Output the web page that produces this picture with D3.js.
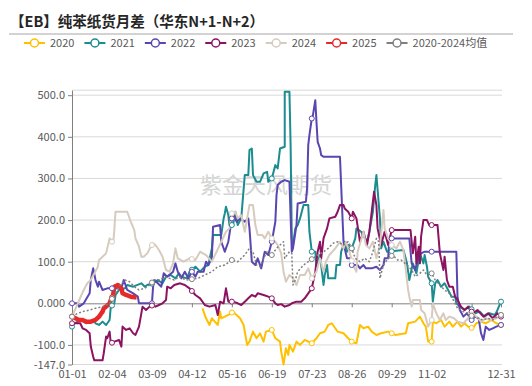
<!DOCTYPE html>
<html>
<head>
<meta charset="utf-8">
<script src="https://cdn.jsdelivr.net/npm/d3@7"></script>
<style>
body { margin: 0; background: #fff; }
svg { display: block; }
text { font-family: "Noto Sans CJK SC", "Noto Sans", sans-serif; }
</style>
</head>
<body>
<div id="chart"></div>
<script>
// series names and colours
var names = ["2020", "2021", "2022", "2023", "2024", "2025", "2020-2024均值"];
var colors = ["#ffc000", "#1b8c8f", "#5a46b0", "#8c1262", "#d6cbbe", "#e8292a", "#7f7f7f"];

// [day of year, value]
var s2020 = [[111,-12],[114,-36],[117,-52],[119,-36],[124,-52],[126,-20],[127,-36],[133,-28],[137,-20],[140,-28],[143,-36],[146,-52],[148,-84],[149,-100],[151,-92],[154,-68],[157,-84],[160,-72],[163,-92],[165,-68],[170,-64],[173,-84],[177,-92],[178,-116],[180,-147],[182,-108],[184,-124],[185,-100],[188,-116],[191,-92],[194,-100],[198,-88],[204,-96],[208,-84],[211,-72],[215,-68],[218,-52],[221,-48],[224,-60],[226,-68],[231,-72],[235,-84],[238,-92],[242,-96],[245,-52],[248,-60],[252,-56],[255,-68],[259,-76],[263,-72],[269,-68],[275,-76],[284,-72],[286,-48],[292,-44],[296,-32],[299,-48],[301,-56],[303,-92],[306,-92],[307,-44],[310,-48],[314,-40],[317,-56],[321,-44],[324,-56],[328,-44],[331,-56],[334,-48],[337,-56],[341,-60],[344,-48],[348,-44],[352,-48],[357,-40],[361,-48],[365,-52]];

var s2021 = [[0,-56],[2,-48],[8,-40],[12,-48],[18,-40],[20,-48],[23,-52],[26,-44],[29,-52],[32,-40],[33,-8],[36,0],[37,20],[40,32],[45,36],[47,44],[52,40],[59,48],[62,40],[64,44],[69,48],[73,56],[77,48],[80,64],[84,68],[88,60],[91,72],[93,64],[98,60],[100,76],[105,88],[109,76],[113,88],[116,92],[119,132],[120,164],[127,164],[129,204],[130,216],[131,232],[133,212],[134,188],[137,188],[139,220],[141,188],[144,204],[147,308],[150,308],[151,368],[153,372],[154,308],[157,292],[160,292],[163,312],[166,316],[167,292],[170,300],[173,332],[175,324],[177,372],[181,376],[181,508],[185,508],[186,380],[187,156],[188,140],[190,180],[192,188],[194,204],[197,236],[201,236],[202,172],[204,124],[207,124],[208,92],[211,116],[212,92],[214,44],[215,68],[217,92],[218,60],[224,60],[225,92],[228,92],[229,124],[232,148],[234,124],[235,140],[238,132],[241,156],[242,180],[246,172],[251,148],[253,172],[256,220],[258,284],[259,308],[262,204],[263,132],[265,148],[268,124],[282,128],[285,96],[287,56],[290,96],[293,72],[296,120],[299,96],[300,116],[302,88],[303,64],[306,48],[307,4],[309,48],[311,56],[314,40],[317,48],[320,32],[323,16],[326,16],[327,0],[330,-8],[334,-16],[338,-8],[343,-24],[347,-20],[351,-32],[355,-24],[360,-28],[362,-16],[365,4]];

var s2022 = [[0,0],[5,0],[6,-8],[10,0],[15,24],[16,56],[18,84],[20,56],[22,40],[23,52],[26,32],[30,36],[35,36],[42,36],[44,56],[47,32],[52,24],[56,16],[57,0],[68,0],[69,40],[70,56],[73,48],[76,40],[78,72],[81,64],[86,76],[88,96],[90,76],[93,60],[96,76],[99,60],[102,76],[105,64],[107,76],[112,76],[114,100],[116,92],[119,108],[120,184],[126,188],[127,148],[130,124],[133,148],[136,204],[137,216],[140,196],[143,204],[147,196],[150,204],[151,180],[153,100],[156,92],[158,108],[161,84],[164,124],[167,116],[170,148],[173,196],[174,260],[175,284],[178,292],[181,296],[185,292],[187,124],[188,132],[191,188],[192,240],[199,244],[200,276],[201,380],[202,404],[204,444],[205,452],[207,488],[208,436],[209,388],[211,372],[212,356],[214,352],[228,352],[229,284],[231,148],[232,132],[234,108],[237,108],[238,92],[243,92],[245,84],[248,92],[250,84],[255,84],[259,88],[262,80],[265,92],[266,108],[269,108],[270,156],[287,156],[289,96],[292,80],[294,104],[297,120],[300,124],[327,124],[328,16],[330,-16],[333,-32],[336,-24],[340,-40],[343,-32],[346,-36],[348,-72],[350,-88],[352,-56],[355,-64],[358,-60],[361,-56],[365,-52]];

var s2023 = [[0,-48],[7,-48],[9,-60],[12,-64],[15,-72],[16,-104],[18,-128],[19,-137],[26,-137],[27,-120],[29,-80],[30,-84],[32,-68],[33,-96],[36,-92],[40,-88],[42,-104],[43,-56],[46,-64],[49,-60],[52,-72],[54,-76],[57,-56],[60,-8],[63,-16],[66,-8],[69,-4],[71,-8],[74,-4],[77,0],[80,8],[81,40],[84,36],[87,44],[92,48],[96,44],[100,36],[105,20],[109,12],[113,-4],[117,-8],[122,-4],[124,-28],[126,4],[129,0],[131,36],[133,4],[137,4],[141,0],[144,-4],[147,4],[150,12],[153,20],[156,16],[158,24],[163,20],[167,16],[170,12],[173,0],[175,-4],[178,-2],[181,-8],[185,-4],[187,0],[191,4],[195,4],[198,12],[201,24],[204,36],[207,76],[209,124],[211,148],[212,108],[214,156],[217,180],[219,204],[224,208],[226,220],[228,236],[231,236],[232,228],[235,220],[238,204],[239,220],[242,204],[245,148],[248,172],[251,140],[253,172],[255,220],[257,268],[259,236],[260,180],[263,140],[266,172],[269,140],[272,176],[288,176],[290,120],[292,160],[293,96],[295,136],[296,96],[297,160],[299,200],[302,200],[304,188],[311,188],[313,120],[316,80],[317,112],[319,56],[321,40],[324,40],[326,16],[328,8],[331,-8],[334,-16],[337,-8],[341,-24],[345,-16],[350,-32],[354,-24],[358,-36],[362,-24],[365,-32]];

var s2024 = [[0,-32],[5,0],[8,20],[10,32],[13,48],[16,56],[19,72],[22,88],[23,104],[26,112],[29,120],[30,132],[32,156],[35,144],[36,176],[37,220],[47,220],[50,196],[53,176],[54,156],[57,136],[59,112],[61,112],[64,120],[67,136],[69,144],[71,140],[74,128],[77,112],[80,80],[83,76],[86,96],[88,132],[90,108],[95,100],[100,108],[105,104],[109,124],[114,116],[119,100],[123,124],[127,148],[131,172],[134,180],[136,216],[139,220],[141,204],[144,212],[147,172],[151,236],[154,236],[156,188],[158,164],[162,164],[164,156],[167,172],[170,156],[173,148],[175,140],[178,120],[180,76],[182,52],[185,68],[188,60],[191,44],[194,68],[198,68],[201,84],[204,60],[208,76],[211,108],[214,76],[216,100],[219,116],[224,132],[228,148],[231,132],[233,148],[236,124],[239,92],[242,76],[243,124],[248,172],[250,140],[253,132],[256,148],[259,108],[262,140],[265,224],[266,180],[269,156],[272,140],[276,132],[279,148],[282,128],[284,80],[286,32],[287,16],[289,-8],[290,8],[296,8],[297,-16],[300,-24],[303,-56],[306,-40],[307,0],[310,-24],[313,-40],[316,-24],[318,-40],[321,-32],[325,-36],[328,-44],[333,-48],[337,-36],[341,-24],[344,-32],[348,-44],[352,-36],[357,-40],[361,-36],[365,-28]];

var s2025 = [[0,-32],[3,-36],[6,-40],[9,-40],[12,-44],[16,-44],[20,-40],[23,-32],[25,-24],[26,-20],[27,-12],[29,-8],[32,0],[33,8],[35,20],[36,40],[39,44],[42,36],[43,24],[46,20],[50,16],[55,14]];

var sAvg = [[0,-32],[5,-24],[9,-20],[15,-16],[20,-12],[26,-8],[32,0],[35,16],[40,40],[45,56],[49,52],[53,40],[57,32],[62,36],[66,44],[70,56],[74,56],[79,64],[83,60],[87,56],[91,64],[97,56],[102,58],[107,60],[113,68],[119,76],[124,88],[130,92],[136,104],[141,100],[147,116],[151,132],[154,124],[157,92],[160,88],[163,108],[166,124],[170,116],[174,132],[177,140],[180,148],[181,108],[185,124],[187,120],[188,44],[190,56],[192,76],[197,92],[201,100],[205,108],[209,116],[214,124],[218,132],[222,144],[226,148],[231,140],[235,148],[238,132],[241,108],[245,100],[249,108],[253,100],[256,124],[259,156],[261,148],[262,60],[265,92],[269,108],[273,116],[277,104],[280,104],[285,92],[289,80],[292,64],[296,72],[299,80],[303,64],[306,72],[309,56],[313,44],[317,32],[321,24],[326,0],[328,-12],[333,-20],[337,-24],[341,-32],[345,-36],[350,-40],[354,-36],[358,-40],[362,-32],[365,-28]];

var allSeries = [s2020, s2021, s2022, s2023, s2024, s2025, sAvg];

// axes
var xTickDays = [0, 34, 68, 102, 136, 170, 204, 238, 272, 306, 340, 365];
var xLabelDays = [0, 34, 68, 102, 136, 170, 204, 238, 272, 306, 365];
var xLabels = ["01-01", "02-04", "03-09", "04-12", "05-16", "06-19", "07-23", "08-26", "09-29", "11-02", "12-31"];
var yTickVals = [-147, -100, 0, 100, 200, 300, 400, 500];
var yLabels = ["-147.0", "-100.0", "0.000", "100.0", "200.0", "300.0", "400.0", "500.0"];
var yMin = -147, yMax = 512;

var width = 532, height = 386;
var svg = d3.select("#chart").append("svg")
    .attr("width", width)
    .attr("height", height);

var x = d3.scaleLinear().domain([0, 365]).range([72, 501]);
var y = d3.scaleLinear().domain([yMin, yMax]).range([364.5, 90.2]);

// title
svg.append("text")
    .attr("x", 10)
    .attr("y", 27)
    .attr("font-size", 14.5)
    .attr("font-weight", "bold")
    .attr("fill", "#262626")
    .text("【EB】纯苯纸货月差（华东N+1-N+2）");

svg.append("line")
    .attr("x1", 9).attr("x2", 513)
    .attr("y1", 34).attr("y2", 34)
    .attr("stroke", "#a6a6a6")
    .attr("stroke-width", 1);

// legend
var lx = 24;
names.forEach(function(n, i) {
    var g = svg.append("g").attr("transform", "translate(" + lx + ",43)");
    g.append("line")
        .attr("x1", 0).attr("x2", 21)
        .attr("stroke", colors[i])
        .attr("stroke-width", 2);
    g.append("circle")
        .attr("cx", 10.5).attr("r", 4)
        .attr("fill", "#fff")
        .attr("stroke", colors[i])
        .attr("stroke-width", 1.5);
    var t = g.append("text")
        .attr("x", 26).attr("y", 4)
        .attr("font-size", 11)
        .attr("fill", "#595959")
        .text(n);
    lx += 26 + t.node().getComputedTextLength() + 10;
});

// watermark
svg.append("text")
    .attr("x", 266)
    .attr("y", 193)
    .attr("text-anchor", "middle")
    .attr("font-size", 22)
    .attr("fill", "#d4d4d4")
    .text("紫金天风期货");

// grid
svg.append("g").selectAll("line")
    .data(yTickVals.filter(function(v) { return v !== 0; }).concat([yMax]))
    .enter().append("line")
    .attr("x1", 72).attr("x2", 502)
    .attr("y1", function(d) { return y(d); })
    .attr("y2", function(d) { return y(d); })
    .attr("stroke", "#d9d9d9")
    .attr("stroke-width", 1);

// y axis
var yAxis = svg.append("g")
    .attr("transform", "translate(72,0)")
    .call(d3.axisLeft(y).tickValues(yTickVals).tickSize(4).tickSizeOuter(0)
        .tickFormat(function(d) { return yLabels[yTickVals.indexOf(d)]; }));
yAxis.selectAll("path, line").attr("stroke", "#7f7f7f");
yAxis.selectAll("text").attr("font-size", 11).attr("fill", "#595959")
    .attr("font-family", "\"Noto Sans CJK SC\", \"Noto Sans\", sans-serif");

// zero line with ticks
var zAxis = svg.append("g")
    .attr("transform", "translate(0," + y(0) + ")")
    .call(d3.axisBottom(x).tickValues(xTickDays).tickSize(4).tickSizeOuter(0).tickFormat(""));
zAxis.select(".domain").attr("d", "M72,0.5H502");
zAxis.selectAll("path, line").attr("stroke", "#808080");

// x labels at bottom
var xAxis = svg.append("g")
    .attr("transform", "translate(0," + y(yMin) + ")")
    .call(d3.axisBottom(x).tickValues(xLabelDays).tickSize(0).tickPadding(6)
        .tickFormat(function(d) { return xLabels[xLabelDays.indexOf(d)]; }));
xAxis.select(".domain").remove();
xAxis.selectAll("text").attr("font-size", 11).attr("fill", "#595959")
    .attr("font-family", "\"Noto Sans CJK SC\", \"Noto Sans\", sans-serif");

// lines
var line = d3.line()
    .x(function(d) { return x(d[0]); })
    .y(function(d) { return y(d[1]); });

var widths = [2, 2, 2, 2, 2, 4.5, 1.5];

allSeries.forEach(function(s, i) {
    svg.append("path")
        .datum(s)
        .attr("fill", "none")
        .attr("stroke", colors[i])
        .attr("stroke-width", widths[i])
        .attr("stroke-linejoin", "round")
        .attr("stroke-dasharray", i === 6 ? "2,2" : null)
        .attr("d", line);
});

// markers at label interval
function valueAt(s, day) {
    for (var k = 0; k < s.length - 1; k++) {
        if (s[k][0] <= day && s[k + 1][0] >= day) {
            if (s[k + 1][0] === s[k][0]) return s[k][1];
            var t = (day - s[k][0]) / (s[k + 1][0] - s[k][0]);
            return s[k][1] + t * (s[k + 1][1] - s[k][1]);
        }
    }
    return null;
}

allSeries.forEach(function(s, i) {
    var pts = [];
    xTickDays.forEach(function(day) {
        var v = valueAt(s, day);
        if (v !== null) pts.push([day, v]);
    });
    svg.append("g").selectAll("circle")
        .data(pts)
        .enter().append("circle")
        .attr("cx", function(d) { return x(d[0]); })
        .attr("cy", function(d) { return y(d[1]); })
        .attr("r", 2.5)
        .attr("fill", "#fff")
        .attr("stroke", colors[i])
        .attr("stroke-width", 1);
});
</script>
</body>
</html>
